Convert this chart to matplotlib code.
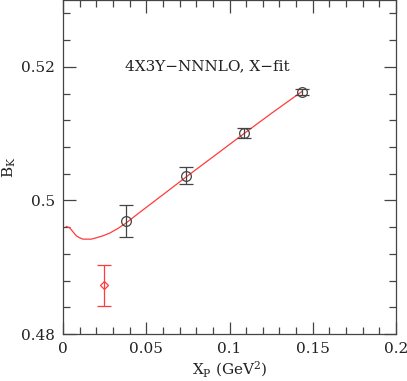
import matplotlib
matplotlib.use("Agg")
import matplotlib.pyplot as plt
from matplotlib.ticker import MultipleLocator

# data points (black circles)
xp = [0.0378, 0.0739, 0.1087, 0.1435]
bk = [0.4969, 0.5037, 0.5101, 0.5163]
bk_err = [0.00245, 0.00125, 0.0008, 0.00045]

# extrapolated point (red diamond)
xp_phys = [0.0246]
bk_phys = [0.4873]
bk_phys_err = [0.0031]

# fit curve
curve_x = [0.002, 0.004, 0.006, 0.008, 0.010, 0.012, 0.014, 0.017, 0.020, 0.024,
           0.028, 0.033, 0.0378, 0.045, 0.055, 0.065, 0.0739, 0.09, 0.1087, 0.125, 0.1435]
curve_y = [0.4961, 0.4959, 0.4953, 0.4947, 0.4944, 0.4942, 0.4942, 0.4942, 0.4944, 0.4947,
           0.4951, 0.4958, 0.4966, 0.4980, 0.4999, 0.5018, 0.5035, 0.5065, 0.5100, 0.5130, 0.5163]

plt.rcParams['font.family'] = ['DejaVu Serif']
plt.rcParams['mathtext.fontset'] = 'dejavuserif'

fig = plt.figure(figsize=(4.07, 3.81), dpi=100)
ax = fig.add_axes([63/407, 47/381, 333/407, 334/381])

gray = '#444444'
red = '#ff3b3b'

ax.plot(curve_x, curve_y, color=red, lw=0.9)
ax.errorbar(xp, bk, yerr=bk_err, fmt='o', mfc='none', mec=gray, ecolor=gray,
            ms=7, mew=0.9, elinewidth=0.9, capsize=5, capthick=0.9)
ax.errorbar(xp_phys, bk_phys, yerr=bk_phys_err, fmt='D', mfc='none', mec=red, ecolor=red,
            ms=4.5, mew=0.9, elinewidth=0.9, capsize=5, capthick=0.9)

ax.set_xlim(0, 0.2)
ax.set_ylim(0.48, 0.53)
ax.xaxis.set_minor_locator(MultipleLocator(0.01))
ax.yaxis.set_minor_locator(MultipleLocator(0.004))
ax.set_xticks([0, 0.05, 0.1, 0.15, 0.2])
ax.set_xticklabels(['0', '0.05', '0.1', '0.15', '0.2'])
ax.set_yticks([0.48, 0.5, 0.52])
ax.set_yticklabels(['0.48', '0.5', '0.52'])
ax.tick_params(which='both', direction='in', top=True, right=True, colors=gray,
               labelcolor='#222222', labelsize=11, width=0.9)
ax.tick_params(which='major', length=9, pad=6)
ax.tick_params(which='minor', length=5)
for s in ax.spines.values():
    s.set_color(gray)
    s.set_linewidth(0.9)

ax.text(0.0865, 0.5201, '4X3Y\u2212NNNLO, X\u2212fit', ha='center', va='center',
        fontsize=11, color='#222222')
ax.set_xlabel(r'X$_\mathrm{P}$ (GeV$^2$)', fontsize=11, color='#222222', labelpad=2)
ax.set_ylabel(r'B$_\mathrm{K}$', fontsize=11, color='#222222')
ax.yaxis.set_label_coords(-0.135, 0.5)

fig.savefig('out.png', dpi=100)
